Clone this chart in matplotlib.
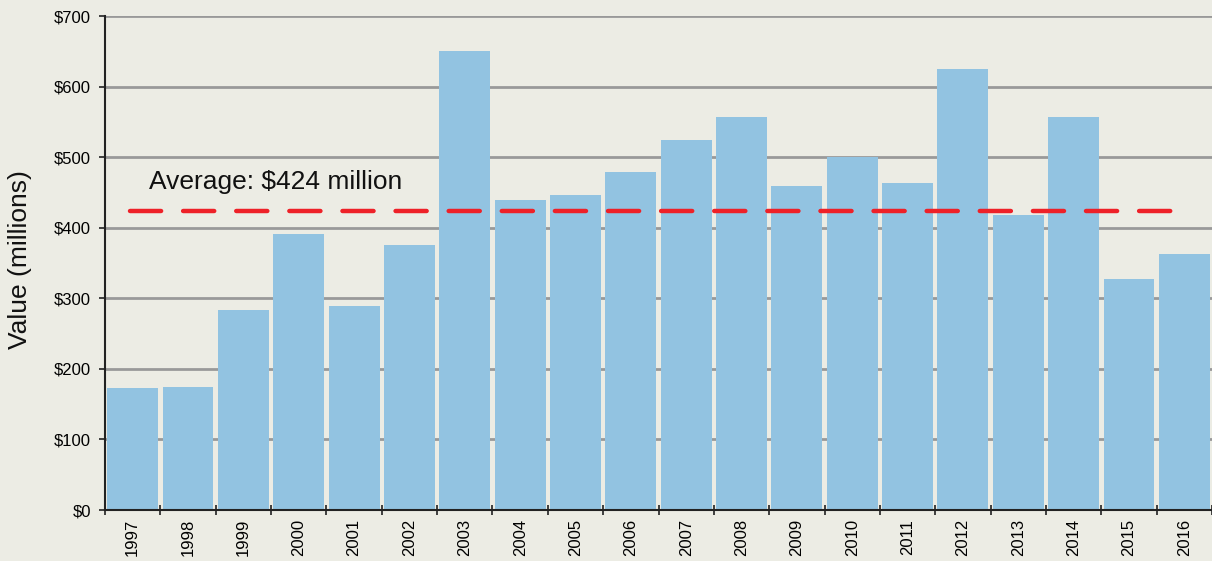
import matplotlib
matplotlib.use("Agg")
import matplotlib.pyplot as plt
import numpy as np

years = ["1997", "1998", "1999", "2000", "2001", "2002", "2003", "2004", "2005", "2006",
         "2007", "2008", "2009", "2010", "2011", "2012", "2013", "2014", "2015", "2016"]
values = [173, 174, 283, 391, 289, 375, 650, 439, 446, 479,
          524, 557, 459, 500, 463, 625, 418, 557, 327, 363]
average = 424
avg_label = "Average: $424 million"
yticks = [0, 100, 200, 300, 400, 500, 600, 700]
ytick_labels = ["$0", "$100", "$200", "$300", "$400", "$500", "$600", "$700"]

bg = "#ECECE4"
plt.rcParams['font.family'] = ['Liberation Sans', 'DejaVu Sans']

fig = plt.figure(figsize=(12.12, 5.61), dpi=100, facecolor=bg)
ax = fig.add_axes([105/1212, 1 - 510/561, 1 - 105/1212, (510 - 16)/561])
ax.set_facecolor(bg)

x = np.arange(len(years))
ax.bar(x, values, width=0.92, color="#92C3E1", zorder=2)

ax.set_xlim(-0.5, len(years) - 0.5)
ax.set_ylim(0, 700)
ax.set_yticks(yticks)
ax.set_yticklabels(ytick_labels, fontsize=12)
ax.yaxis.grid(True, color="#999999", linewidth=2, zorder=0)
ax.set_axisbelow(True)

ax.set_xticks(x)
ax.set_xticklabels(years, rotation=90, fontsize=12)
ax.tick_params(axis='x', length=0, pad=6.5)
ax.set_xticks(np.arange(-0.5, len(years), 1.0), minor=True)
ax.tick_params(axis='x', which='minor', length=7, width=1.2, color="#222222", direction='inout')
ax.tick_params(axis='y', length=4, width=1.2, color="#222222", direction='out', pad=6)

for s in ['top', 'right']:
    ax.spines[s].set_visible(False)
ax.spines['left'].set_color("#222222")
ax.spines['left'].set_linewidth(1.5)
ax.spines['bottom'].set_color("#222222")
ax.spines['bottom'].set_linewidth(1.5)
ax.spines['left'].set_zorder(4)
ax.spines['bottom'].set_zorder(4)

line, = ax.plot([-0.05, 18.85], [average, average], color="#EE2128", linewidth=3.2,
                solid_capstyle='round', dash_capstyle='round', zorder=3)
line.set_dashes([7.0, 4.95])

ax.text(0.3, 455, avg_label, fontsize=19, color="#111111", ha='left', va='baseline', zorder=5)

fig.text(20/1212, 1 - 260/561, "Value (millions)", rotation=90, fontsize=19,
         ha='center', va='center', color="#111111")

fig.savefig("out.png", dpi=100, facecolor=bg)
